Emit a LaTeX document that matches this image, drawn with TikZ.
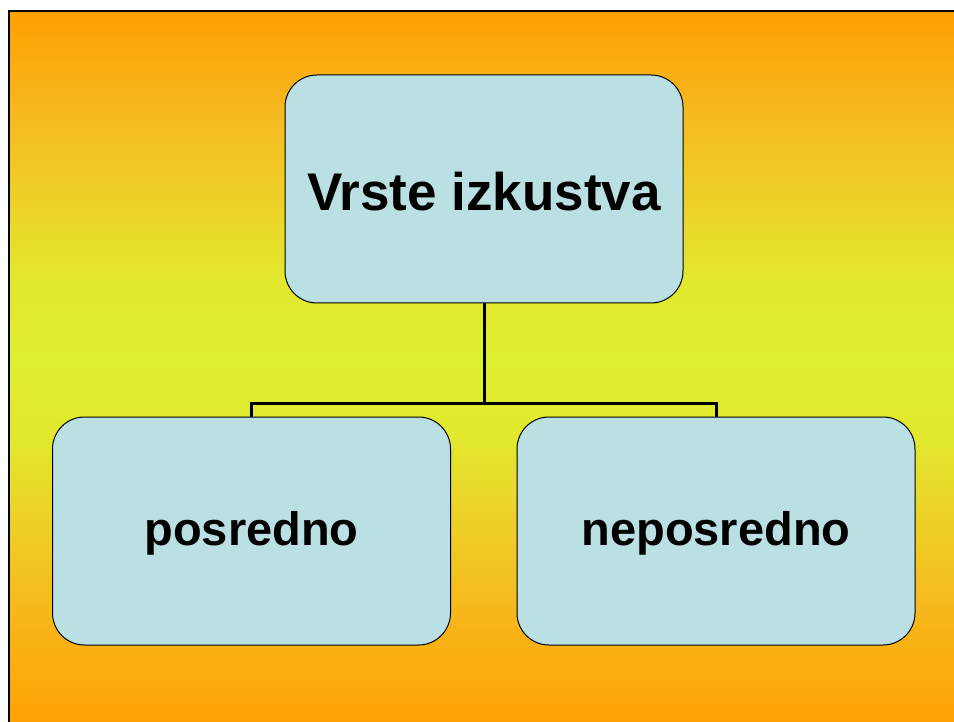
\documentclass[tikz,border=0pt]{standalone}
\usepackage{fontspec}
\setmainfont{Liberation Sans}
\definecolor{gA}{RGB}{255,160,0}
\definecolor{gB}{RGB}{247,184,32}
\definecolor{gC}{RGB}{238,208,40}
\definecolor{gD}{RGB}{226,232,46}
\definecolor{gE}{RGB}{222,238,48}
\definecolor{gF}{RGB}{246,186,30}
\definecolor{gG}{RGB}{255,162,2}
\definecolor{boxfill}{RGB}{186,224,227}
\pgfdeclareverticalshading{bgshade}{100bp}{%
  color(0bp)=(gG); color(25bp)=(gG); color(33.44bp)=(gF); color(39.21bp)=(gC);
  color(44.83bp)=(gD); color(50.46bp)=(gE); color(56.08bp)=(gD);
  color(61.71bp)=(gC); color(68.04bp)=(gB); color(75bp)=(gA); color(100bp)=(gA)}
\begin{document}
\begin{tikzpicture}[x=1pt,y=-1pt,
  box/.style={draw=black,line width=1pt,fill=boxfill,rounded corners=32pt,
    minimum width=398pt,minimum height=228pt,inner sep=0pt,font=\bfseries},
  link/.style={draw=black,line width=3pt}]
\useasboundingbox (0,0) rectangle (954,722);
\fill[white] (0,0) rectangle (954,722);
\shade[shading=bgshade] (9,11) rectangle (954,722);
\draw[black,line width=2.5pt] (9,730) -- (9,11) -- (960,11);
\node[box,text height=43pt,font=\bfseries\fontsize{53pt}{60pt}\selectfont] (top) at (484,189) {Vrste izkustva};
\node[box,text height=39pt,text depth=10pt,font=\bfseries\fontsize{47pt}{54pt}\selectfont] (left) at (251.5,531) {posredno};
\node[box,text height=39pt,text depth=10pt,font=\bfseries\fontsize{47pt}{54pt}\selectfont] (right) at (716,531) {neposredno};
\coordinate (j) at (484,403);
\draw[link] (top.south) -- (j);
\draw[link] (left.north) |- (j) -| (right.north);
\end{tikzpicture}
\end{document}
